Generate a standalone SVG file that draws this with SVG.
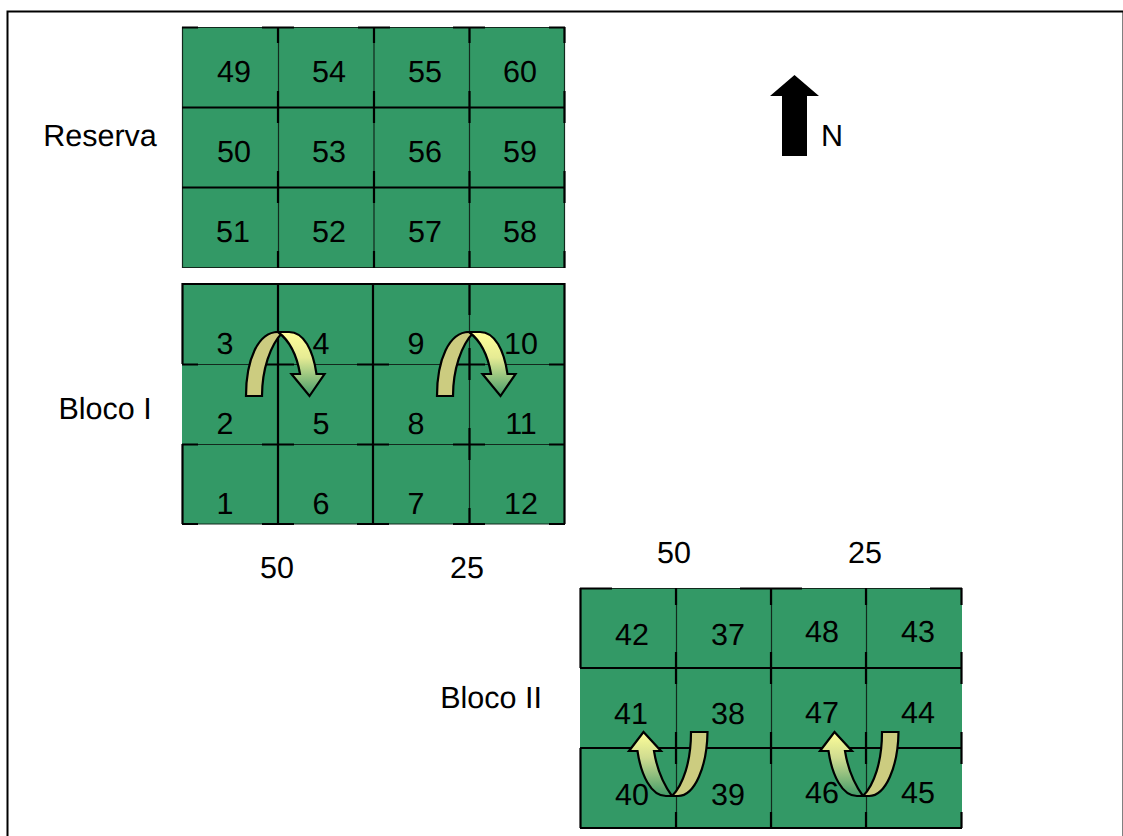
<svg xmlns="http://www.w3.org/2000/svg" xmlns:xlink="http://www.w3.org/1999/xlink" width="1123" height="836" viewBox="0 0 1123 836">
<style>
text{font-family:"Liberation Sans",Arial,sans-serif;font-size:30.500px;fill:#000;text-anchor:middle;text-rendering:geometricPrecision}
.plot{fill:#339966;stroke:none}
.g{stroke:#000;stroke-width:2.200;fill:none}
.g2{stroke:#12291d;stroke-width:1.200;fill:none}
.ar{stroke:#000;stroke-width:2.200;stroke-linejoin:miter}
.back{fill:#cccc80}
</style>
<defs>
<linearGradient id="down" x1="0" y1="0" x2="0" y2="1"><stop offset="0" stop-color="#ffff99"/><stop offset="0.4" stop-color="#e6eb94"/><stop offset="1" stop-color="#429b68"/></linearGradient>
<linearGradient id="up" x1="0" y1="1" x2="0" y2="0"><stop offset="0" stop-color="#429b68"/><stop offset="0.6" stop-color="#d0dc90"/><stop offset="1" stop-color="#ffff99"/></linearGradient>
<g id="cw">
<path class="ar back" d="M246,396C246,360 258,332 278,332L283,332C270,345 262,370 262,396Z"/>
<path class="ar" fill="url(#down)" d="M278,332L289,332C304,332 313,350 316.500,374L324.500,374L309.500,396L291.500,374L300,374C297,356 290,341 278,332Z"/>
</g>
<g id="ccw">
<path class="ar back" d="M691,732L707.500,732C707,766 695,796 678,796L672,796C683,785 691,762 691,732Z"/>
<path class="ar" fill="url(#up)" d="M678,796L666,796C651,796 641,775 637.500,751L629,751L643.500,732L661,751L654,751C657,770 664,785 672,796Z"/>
</g>
</defs>
<rect id="border" x="7.500" y="11.500" width="1116" height="826" fill="#fff" stroke="#000" stroke-width="2"/>
<g id="reserva">
<rect class="plot" x="182" y="27" width="383" height="241"/>
<path class="g2" d="M182,27.500H565M182,267.500H565M182.500,27V268M278.500,27V268M374,27V268M469.500,27V268M564.500,27V268"/>
<path class="g" d="M182,107.500H565M182,187.500H565M278,27V43M278,91V123M278,171V203M278,251V268M374,27V43M374,91V123M374,171V203M374,251V268M469.500,27V43M469.500,91V123M469.500,171V203M469.500,251V268M564.500,27V43M564.500,91V123M564.500,171V203M564.500,251V268M182,27.500H198M262,27.500H294M358,27.500H390M453,27.500H485M549,27.500H565"/>
<text x="234" y="82">49</text><text x="329" y="82">54</text><text x="425" y="82">55</text><text x="520" y="82">60</text>
<text x="234" y="162">50</text><text x="329" y="162">53</text><text x="425" y="162">56</text><text x="520" y="162">59</text>
<text x="233" y="242">51</text><text x="329" y="242">52</text><text x="425" y="242">57</text><text x="520" y="242">58</text>
<text id="reserva-label" x="100" y="146">Reserva</text>
</g>
<g id="bloco1">
<rect class="plot" x="182" y="283" width="383" height="241"/>
<path class="g2" d="M182,364.500H565M182,444.500H565M182,524H565M469.500,283V524"/>
<path class="g" d="M182,284H565M182.500,283V364M182.500,444V524M278,283V524M373,283V524M469.500,283V315M469.500,348V380M469.500,428V460M469.500,508V524M564.500,283V524M182,364.500H198M262,364.500H294M357,364.500H389M453,364.500H485M549,364.500H565M182,444.500H198M262,444.500H294M357,444.500H389M453,444.500H485M549,444.500H565M182,524H198M262,524H294M357,524H389M453,524H485M549,524H565"/>
<text x="225" y="353.500">3</text><text x="321" y="353.500">4</text><text x="416" y="353.500">9</text><text x="521" y="353.500">10</text>
<text x="225" y="433.500">2</text><text x="321" y="433.500">5</text><text x="416" y="433.500">8</text><text x="521" y="433.500">11</text>
<text x="225" y="514">1</text><text x="321" y="514">6</text><text x="416" y="514">7</text><text x="521" y="514">12</text>
<text id="bloco1-label" x="105" y="418.500">Bloco I</text>
<text x="277" y="578">50</text><text x="467" y="578">25</text>
</g>
<g id="bloco2">
<rect class="plot" x="580" y="588" width="382" height="240"/>
<path class="g2" d="M580,588.500H962M676.500,588V828M771.500,588V828M866.500,588V828"/>
<path class="g" d="M580,668H962M580,748H962M580,828H962M580.500,588V668M580.500,748V828M676,588V605M676,652V684M676,732V764M676,812V828M771,588V605M771,652V684M771,732V764M771,812V828M866,588V605M866,652V684M866,732V764M866,812V828M961.500,588V605M961.500,652V684M961.500,732V764M961.500,812V828M580,588.500H612M740,588.500H802M930,588.500H962"/>
<text x="632" y="645">42</text><text x="728" y="645">37</text><text x="822" y="642">48</text><text x="918" y="642">43</text>
<text x="631" y="724">41</text><text x="728" y="724">38</text><text x="822" y="722.500">47</text><text x="918" y="722.500">44</text>
<text x="632" y="805">40</text><text x="728" y="805">39</text><text x="822" y="802.500">46</text><text x="918" y="802.500">45</text>
<text id="bloco2-label" x="491" y="707.500">Bloco II</text>
<text x="674" y="563">50</text><text x="865" y="563">25</text>
</g>
<g id="connectors">
<use xlink:href="#cw" href="#cw"/>
<use xlink:href="#cw" href="#cw" x="191"/>
<use xlink:href="#ccw" href="#ccw"/>
<use xlink:href="#ccw" href="#ccw" x="191"/>
</g>
<g id="north">
<path fill="#000" d="M794.500,75L819,96H807V156H782V96H770Z"/>
<text x="832" y="146">N</text>
</g>
</svg>
